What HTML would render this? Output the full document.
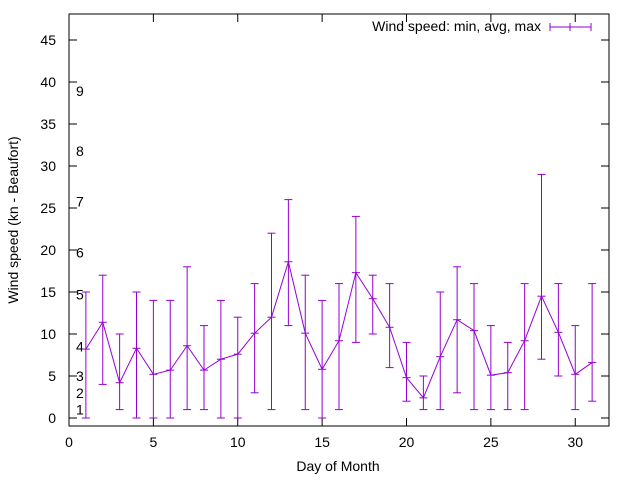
<!DOCTYPE html>
<html><head><meta charset="utf-8">
<style>
body{margin:0;background:#fff}
svg{display:block;font-family:"Liberation Sans",sans-serif}
</style></head><body>
<svg id="chart" width="640" height="480" viewBox="0 0 640 480">
<rect width="640" height="480" fill="#fff"/>
<g id="grid"></g>
<g id="marks"></g>
<rect x="69" y="14" width="540" height="412" fill="none" stroke="#000" stroke-width="1"/>
<text x="338" y="471" font-size="14" text-anchor="middle">Day of Month</text>
<text transform="translate(18,220) rotate(-90)" font-size="14" text-anchor="middle">Wind speed (kn - Beaufort)</text>
<g>
<text x="541" y="31" font-size="14" text-anchor="end">Wind speed: min, avg, max</text>
<line x1="550" y1="27" x2="591" y2="27" stroke="#9400d3"/>
<line x1="550" y1="23" x2="550" y2="31" stroke="#9400d3"/>
<line x1="591" y1="23" x2="591" y2="31" stroke="#9400d3"/>
<line x1="570" y1="23" x2="570" y2="31" stroke="#9400d3"/>
</g>
</svg>
<script>
const days=[1,2,3,4,5,6,7,8,9,10,11,12,13,14,15,16,17,18,19,20,21,22,23,24,25,26,27,28,29,30,31];
const avgSpeed=[8.2,11.4,4.2,8.3,5.2,5.7,8.6,5.7,7.0,7.6,10.1,12.0,18.6,10.1,5.8,9.2,17.3,14.2,10.8,4.8,2.4,7.3,11.7,10.4,5.1,5.4,9.2,14.5,10.2,5.2,6.6];
const minSpeed=[0,4,1,0,0,0,1,1,0,0,3,1,11,1,0,1,9,10,6,2,1,1,3,1,1,1,1,7,5,1,2];
const maxSpeed=[15,17,10,15,14,14,18,11,14,12,16,22,26,17,14,16,24,17,16,9,5,15,18,16,11,9,16,29,16,11,16];
const xTicks=[0,5,10,15,20,25,30];
const yTicks=[0,5,10,15,20,25,30,35,40,45];
const beaufortLabels=["1","2","3","4","5","6","7","8","9"];
const beaufortY=[1,3,5,8.5,14.7,19.7,25.8,31.8,38.9];
const X=v=>69+v*540/32;
const Y=v=>418-v*8.4;
const NS="http://www.w3.org/2000/svg";
const grid=document.getElementById('grid'),marks=document.getElementById('marks');
function mk(tag,attrs,parent){const e=document.createElementNS(NS,tag);for(const k in attrs)e.setAttribute(k,attrs[k]);parent.appendChild(e);return e;}
xTicks.forEach(t=>{
 const x=X(t);
 const l1=mk('line',{x1:x,y1:426,x2:x,y2:418,stroke:'#000'},grid);
 
 
 mk('line',{x1:x,y1:14,x2:x,y2:22,stroke:'#000'},grid);
 const tx=mk('text',{x:x,y:447,'font-size':14,'text-anchor':'middle'},grid);
 tx.textContent=t;
 
 
});
yTicks.forEach(t=>{
 const y=Y(t);
 const l1=mk('line',{x1:69,y1:y,x2:77,y2:y,stroke:'#000'},grid);
 
 
 mk('line',{x1:601,y1:y,x2:609,y2:y,stroke:'#000'},grid);
 const tx=mk('text',{x:56,y:y+5,'font-size':14,'text-anchor':'end'},grid);
 tx.textContent=t;
 
 
});
beaufortLabels.forEach((s,i)=>{
 const tx=mk('text',{x:76,y:Y(beaufortY[i])+5,'font-size':14},grid);
 tx.textContent=s;
 
 
});
const C='#9400d3';
const pts=days.map((d,i)=>X(d)+','+Y(avgSpeed[i])).join(' ');
const pl=mk('polyline',{points:pts,fill:'none',stroke:C,'stroke-width':1},marks);


days.forEach((d,i)=>{
 const x=X(d);
 const g=mk('g',{},marks);
 
 
 mk('line',{x1:x,y1:Y(minSpeed[i]),x2:x,y2:Y(maxSpeed[i]),stroke:C},g);
 mk('line',{x1:x-4,y1:Y(minSpeed[i]),x2:x+4,y2:Y(minSpeed[i]),stroke:C},g);
 mk('line',{x1:x-4,y1:Y(maxSpeed[i]),x2:x+4,y2:Y(maxSpeed[i]),stroke:C},g);
 mk('line',{x1:x-4,y1:Y(avgSpeed[i]),x2:x+4,y2:Y(avgSpeed[i]),stroke:C},g);
});
</script>
</body></html>
